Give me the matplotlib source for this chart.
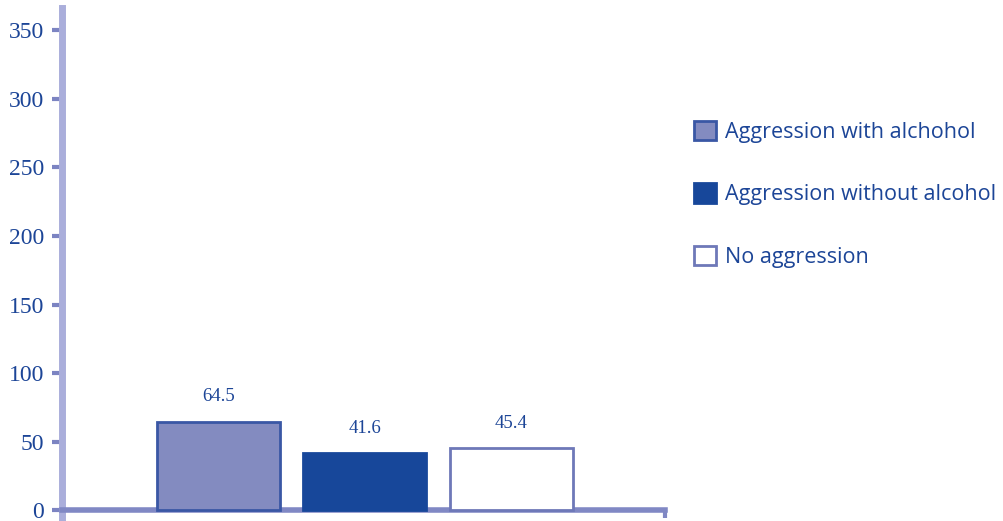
import matplotlib.pyplot as plt
from matplotlib.patches import Patch

categories = ['Aggression with alchohol', 'Aggression without alcohol', 'No aggression']
values = [64.5, 41.6, 45.4]
yticks = [0, 50, 100, 150, 200, 250, 300, 350]

txt = '#1c4597'
fills = ['#838bc0', '#17479a', '#ffffff']
edges = ['#3a57a5', '#17479a', '#6e78b8']

fig = plt.figure(figsize=(10.04, 5.21), dpi=100)
ax = fig.add_axes([62 / 1004, 3 / 521, 603 / 1004, 510 / 521])

x = range(len(values))
bars = ax.bar(x, values, width=0.84, color=fills, edgecolor=edges, linewidth=2, zorder=3)
for xi, v in zip(x, values):
    ax.text(xi, v + 12, f'{v}', ha='center', va='bottom', color=txt,
            fontsize=13.5, family='Liberation Serif')

ax.set_xlim(-1.07, 3.05)
ax.set_ylim(-5.5, 366)
ax.set_yticks(yticks)
ax.set_yticklabels([str(t) for t in yticks], family='Liberation Serif', fontsize=17, color=txt)
ax.set_xticks([])
ax.tick_params(axis='y', length=7, width=3, color='#7c84c2', pad=6)

for s in ['top', 'right']:
    ax.spines[s].set_visible(False)
ax.spines['left'].set_color('#aaaedb')
ax.spines['left'].set_linewidth(5)
ax.spines['bottom'].set_position(('data', 0))
ax.spines['bottom'].set_color('#8088c4')
ax.spines['bottom'].set_linewidth(4)
ax.vlines(3.05, -5.5, 0, color='#8088c4', linewidth=3, clip_on=False)

handles = [Patch(facecolor=f, edgecolor=e, linewidth=2) for f, e in zip(fills, edges)]
leg = fig.legend(handles, categories, loc='upper left', bbox_to_anchor=(694 / 1004, 1 - 121 / 521),
                 frameon=False, handlelength=1.0, handleheight=1.0,
                 handletextpad=0.45, labelspacing=1.88, borderaxespad=0, borderpad=0,
                 prop={'family': 'Open Sans', 'size': 15.5})
for t in leg.get_texts():
    t.set_color(txt)

fig.savefig('out.png', dpi=100)
